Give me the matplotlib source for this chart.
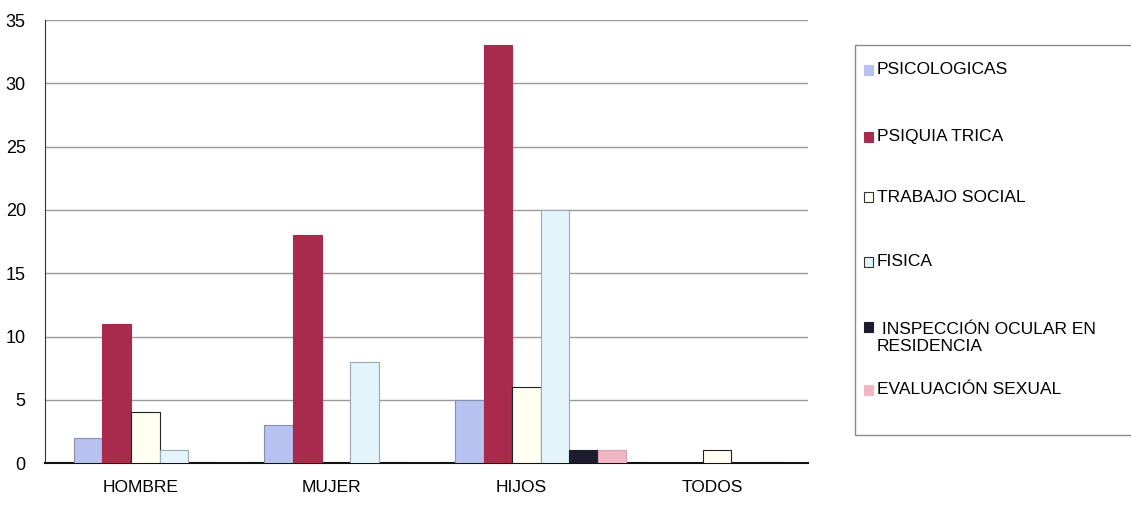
import matplotlib.pyplot as plt
import matplotlib.patches as mpatches
import numpy as np

plt.rcParams['font.family'] = ['Liberation Sans', 'DejaVu Sans']

categorias = ['HOMBRE', 'MUJER', 'HIJOS', 'TODOS']
leyenda = ['PSICOLOGICAS', 'PSIQUIA TRICA', 'TRABAJO SOCIAL', 'FISICA',
           ' INSPECCIÓN OCULAR EN\nRESIDENCIA', 'EVALUACIÓN SEXUAL']
psicologicas = [2, 3, 5, 0]
psiquiatrica = [11, 18, 33, 0]
trabajo_social = [4, 0, 6, 1]
fisica = [1, 8, 20, 0]
inspeccion = [0, 0, 1, 0]
evaluacion = [0, 0, 1, 0]
valores = [psicologicas, psiquiatrica, trabajo_social, fisica, inspeccion, evaluacion]

colores = ['#b7c2f0', '#a82a4c', '#fffff2', '#e3f5fb', '#1c1c2e', '#f1b6c3']
bordes = ['#8890b0', '#a82a4c', '#222222', '#9aa8b0', '#1c1c2e', '#d9a0ae']

fig = plt.figure(figsize=(11.31, 5.14), dpi=100)
ax = fig.add_axes([0.040, 0.099, 0.674, 0.862])

x = np.arange(len(categorias))
w = 0.15
for i, vals in enumerate(valores):
    ax.bar(x + 0.1 + (i - 2.5) * w, vals, width=w, color=colores[i],
           edgecolor=bordes[i], linewidth=0.8, zorder=3)

ax.set_ylim(0, 35)
ax.set_xlim(-0.5, 3.5)
ax.set_yticks(range(0, 36, 5))
ax.set_xticks(x)
ax.set_xticklabels(categorias, fontsize=12.5)
ax.tick_params(axis='y', labelsize=13, length=0, pad=14)
ax.tick_params(axis='x', length=0, pad=12)
ax.yaxis.grid(True, color='#9a9a9a', linewidth=1.0, zorder=0)
for s in ['top', 'right']:
    ax.spines[s].set_visible(False)
ax.spines['left'].set_color('#333333')
ax.spines['bottom'].set_color('#111111')
ax.spines['bottom'].set_linewidth(1.5)

# leyenda manual
fig.add_artist(mpatches.Rectangle((855 / 1131, 1 - 435 / 514), 0.26, 390 / 514,
                                  transform=fig.transFigure, fill=False,
                                  edgecolor='#8a8a8a', linewidth=1.0))
ys = [70, 137, 197, 262, 338, 390]
for i, lab in enumerate(leyenda):
    yy = 1 - ys[i] / 514
    ym = yy if i != 4 else 1 - 327 / 514
    fig.add_artist(mpatches.Rectangle((864 / 1131, ym - 5 / 514), 9 / 1131, 10 / 514,
                                      transform=fig.transFigure, facecolor=colores[i],
                                      edgecolor='#333333' if i in (2, 3) else colores[i],
                                      linewidth=0.8))
    fig.text(877 / 1131, yy, lab, fontsize=12.5, va='center', ha='left',
             linespacing=1.2)

fig.savefig('out.png', dpi=100)
